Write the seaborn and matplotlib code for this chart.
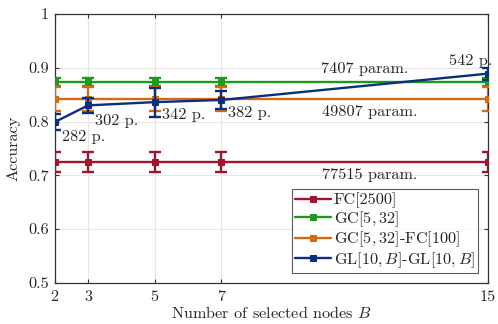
import matplotlib
matplotlib.use("Agg")
import matplotlib.pyplot as plt
import seaborn as sns
import pandas as pd

# ---- data ----
B_values = [2, 3, 5, 7, 15]
fc_acc = [0.725, 0.725, 0.725, 0.725, 0.725]
fc_err = [0.019, 0.019, 0.019, 0.019, 0.019]
gc_acc = [0.873, 0.873, 0.873, 0.873, 0.873]
gc_err = [0.007, 0.007, 0.007, 0.007, 0.007]
gcfc_acc = [0.842, 0.842, 0.842, 0.842, 0.842]
gcfc_err = [0.022, 0.022, 0.022, 0.022, 0.022]
gl_acc = [0.799, 0.830, 0.836, 0.840, 0.889]
gl_err = [0.015, 0.014, 0.027, 0.017, 0.011]
gl_param_labels = ["282 p.", "302 p.", "342 p.", "382 p.", "542 p."]
series_names = ["FC[2500]", "GC$[5,32]$", "GC$[5,32]$-FC[100]", "GL$[10,B]$-GL$[10,B]$"]
param_labels = ["77515 param.", "7407 param.", "49807 param."]
colors = ["#A2142F", "#1E9A1E", "#D46A12", "#0B2F7E"]

FS = 11.7

sns.set_style("whitegrid")
plt.rcParams["font.family"] = ["cmr10", "DejaVu Serif"]
plt.rcParams["mathtext.fontset"] = "cm"
plt.rcParams["axes.formatter.use_mathtext"] = True

fig = plt.figure(figsize=(4.98, 3.24), dpi=100)
ax = fig.add_axes([0.110, 0.127, 0.870, 0.830])

all_acc = [fc_acc, gc_acc, gcfc_acc, gl_acc]
all_err = [fc_err, gc_err, gcfc_err, gl_err]
for name, acc, err, c in zip(series_names, all_acc, all_err, colors):
    df = pd.DataFrame({"B": B_values, "acc": acc})
    sns.lineplot(data=df, x="B", y="acc", ax=ax, color=c, lw=1.7,
                 marker="s", markersize=5, markeredgecolor=c, label=name, zorder=3)
    ax.errorbar(B_values, acc, yerr=err, fmt="none", ecolor=c, elinewidth=1.7,
                capsize=4, capthick=1.7, zorder=3)

# annotations for GL
offsets = [(5, -6), (5, -6), (5, -4), (5, -4), (3, 4)]
has = ["left", "left", "left", "left", "right"]
vas = ["top", "top", "top", "top", "bottom"]
for x, y, lab, off, ha, va in zip(B_values, gl_acc, gl_param_labels, offsets, has, vas):
    ax.annotate(lab, (x, y), xytext=off, textcoords="offset points",
                ha=ha, va=va, fontsize=FS, annotation_clip=False)

ax.text(11.31, 0.898, param_labels[1], ha="center", va="center", fontsize=FS)
ax.text(11.44, 0.817, param_labels[2], ha="center", va="center", fontsize=FS)
ax.text(11.46, 0.701, param_labels[0], ha="center", va="center", fontsize=FS)

ax.set_xlim(2, 15)
ax.set_ylim(0.5, 1.0)
ax.set_xticks(B_values)
ax.set_xticklabels([str(b) for b in B_values])
ax.set_yticks([0.5, 0.6, 0.7, 0.8, 0.9, 1.0])
ax.set_yticklabels(["0.5", "0.6", "0.7", "0.8", "0.9", "1"])
ax.tick_params(axis="both", labelsize=FS, length=3, direction="in", color="#333333")
ax.tick_params(axis="x", pad=5)
ax.tick_params(axis="y", pad=4)
ax.tick_params(axis="both", which="both", left=True, bottom=True, right=True, top=True)
ax.set_xlabel("Number of selected nodes $B$", fontsize=FS, labelpad=1)
ax.set_ylabel("Accuracy", fontsize=FS, labelpad=6)
ax.grid(True, color="#E6E6E6", lw=0.8)
for s in ax.spines.values():
    s.set_color("#333333")
    s.set_linewidth(0.9)

leg = ax.legend(loc="lower right", bbox_to_anchor=(0.977, 0.037), fontsize=FS,
                frameon=True, fancybox=False, edgecolor="#333333",
                handlelength=2.2, handletextpad=0.2, borderpad=0.2, labelspacing=0.05,
                borderaxespad=0)
leg.get_frame().set_linewidth(0.8)

fig.savefig("out.png", dpi=100)
